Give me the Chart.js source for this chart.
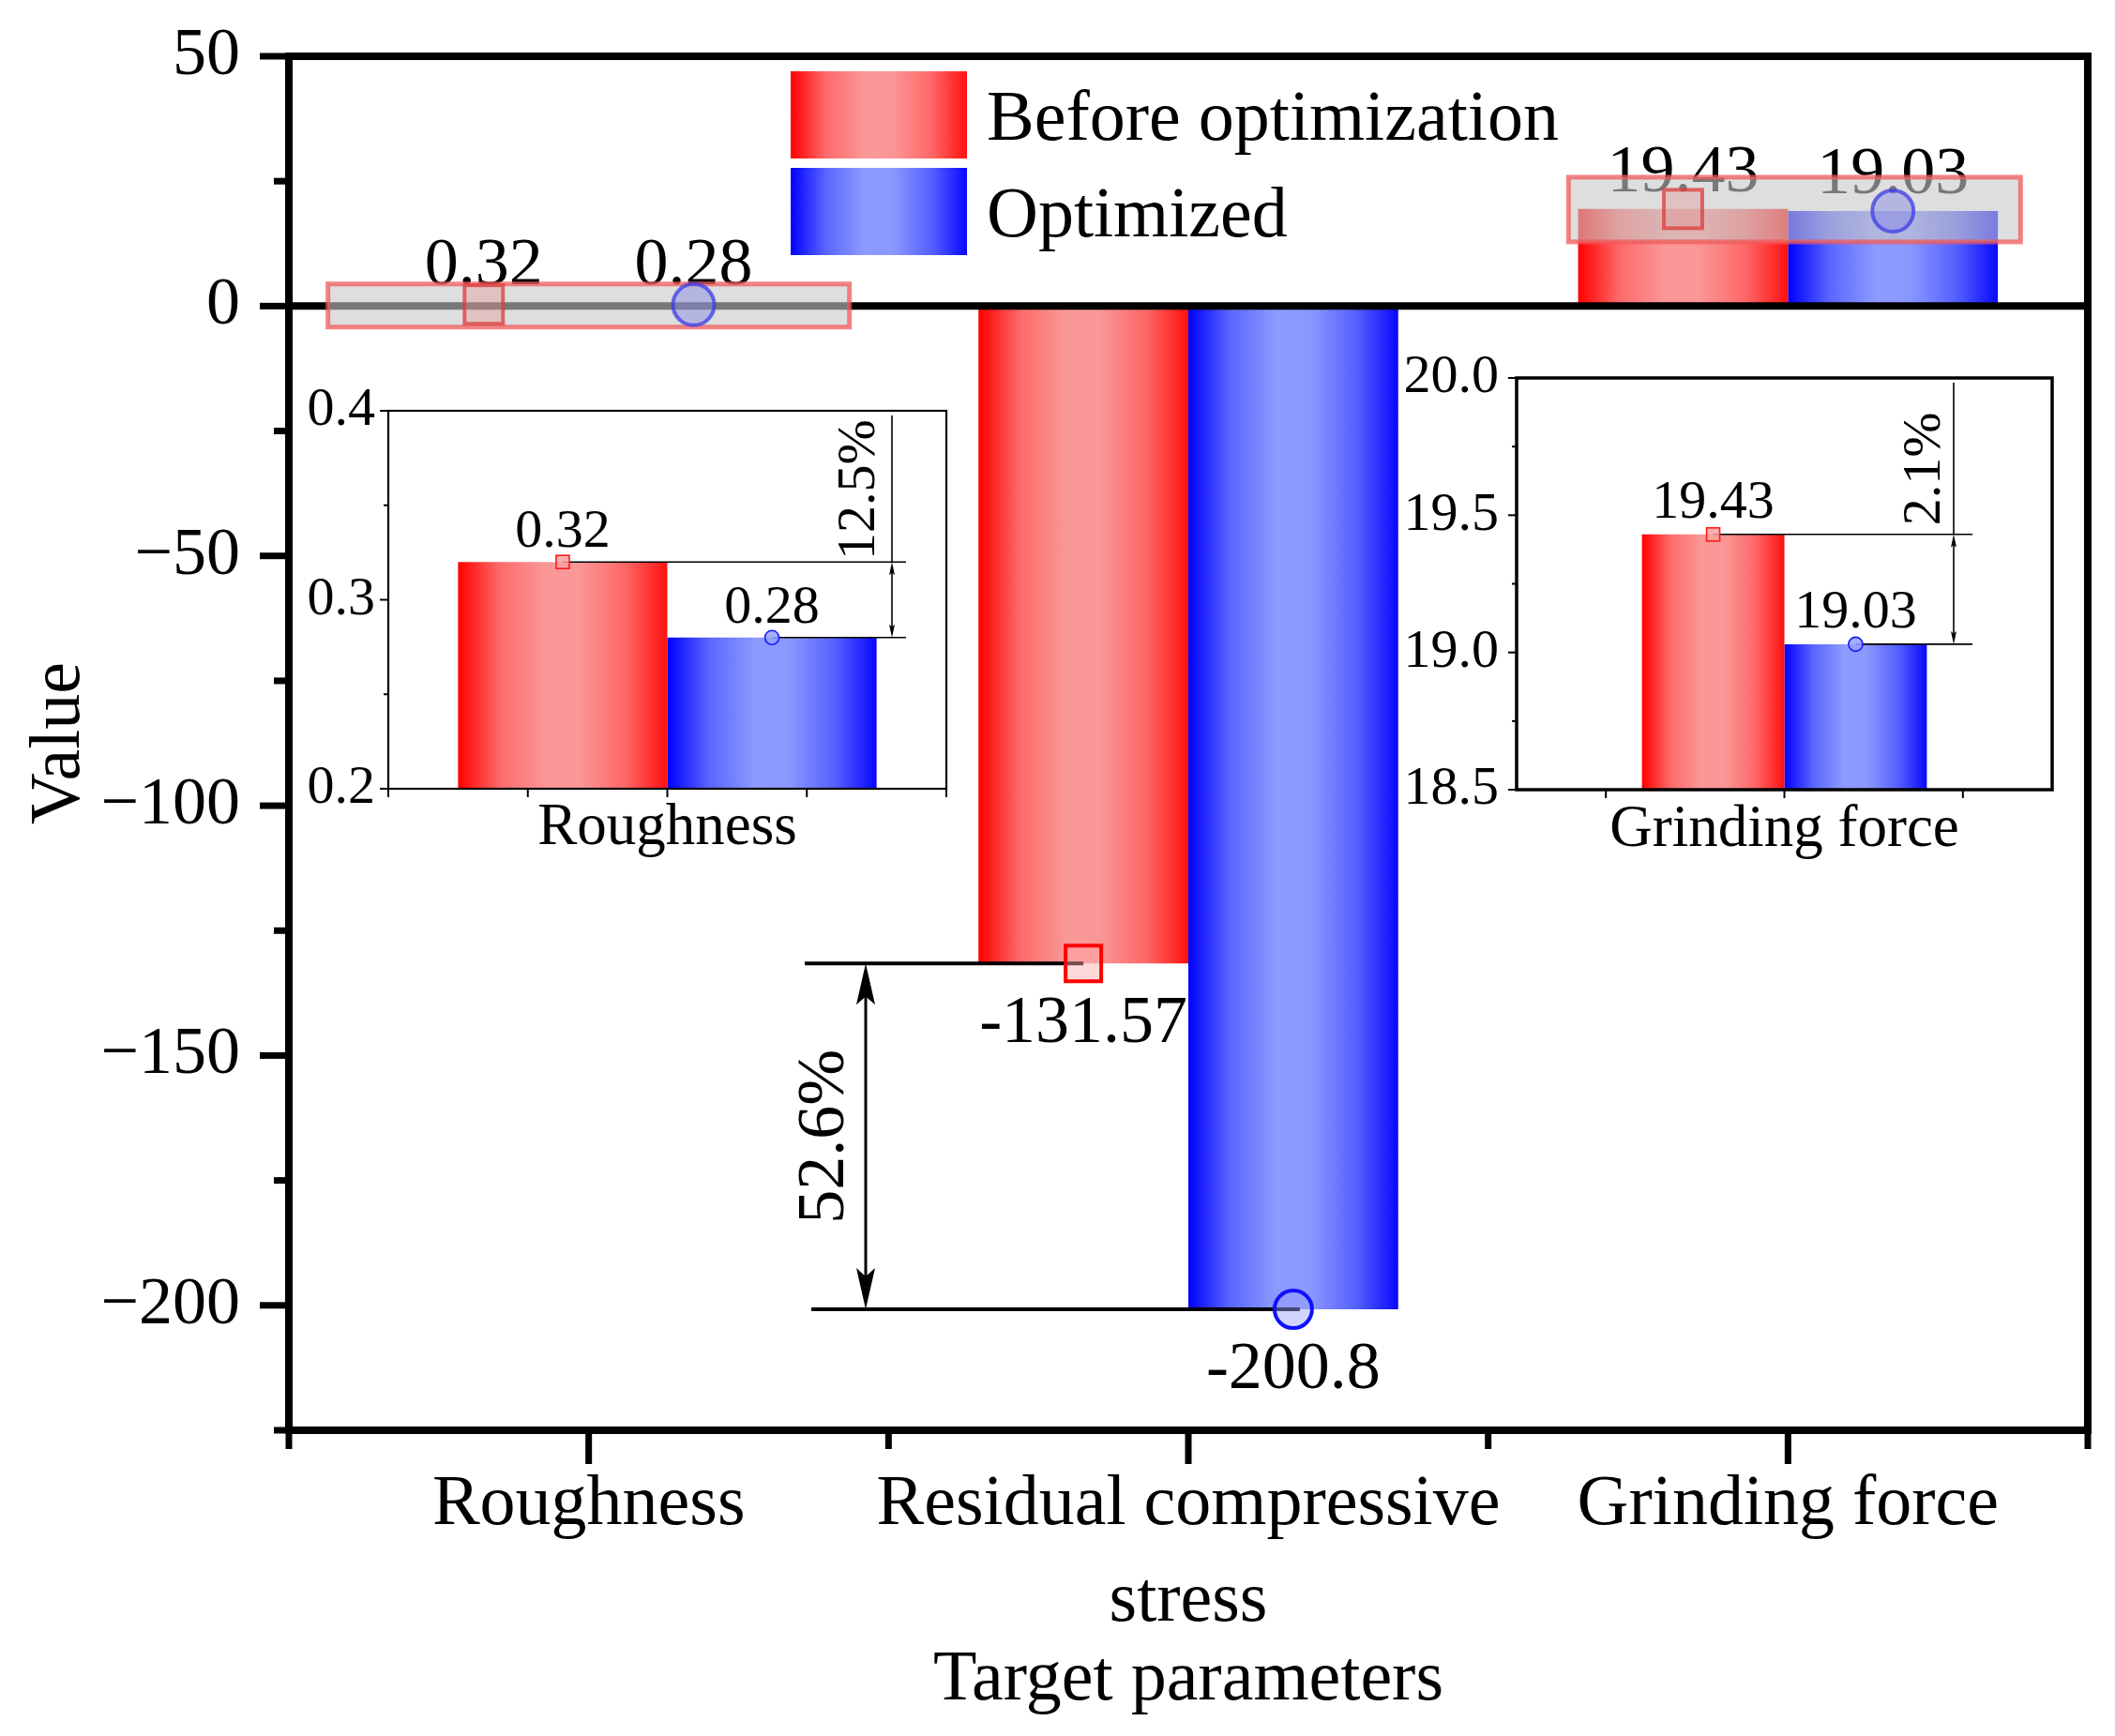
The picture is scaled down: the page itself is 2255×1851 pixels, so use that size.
<!DOCTYPE html>
<html>
<head>
<meta charset="utf-8">
<title>Before / after optimization</title>
<script src="https://cdn.jsdelivr.net/npm/chart.js@4.4.1/dist/chart.umd.min.js"></script>
<style>
  html, body { margin: 0; padding: 0; background: #fff; }
  #wrap { position: relative; width: 2255px; height: 1851px; }
  #wrap canvas { position: absolute; left: 0; top: 0; }
</style>
</head>
<body>
<div id="wrap">
  <canvas id="main" width="2255" height="1851"></canvas>
  <canvas id="insetRough" width="2255" height="1851"></canvas>
  <canvas id="insetForce" width="2255" height="1851"></canvas>
</div>
<script>
const W = 2255, H = 1851;
const FONT = '"Liberation Serif", "Times New Roman", serif';
const WORD_SIZE = 76;   // category names, legend, axis titles
const NUM_SIZE = 72;    // numbers in the main plot

// Data
const categories = ["Roughness", ["Residual compressive", "stress"], "Grinding force"];
const beforeValues = [0.32, -131.57, 19.43];
const optimizedValues = [0.28, -200.8, 19.03];
const seriesNames = ["Before optimization", "Optimized"];
const changeLabels = ["12.5%", "52.6%", "2.1%"];
const mainTickLabels = [-200, -150, -100, -50, 0, 50];
const roughTickLabels = [0.2, 0.3, 0.4];
const forceTickLabels = [18.5, 19.0, 19.5, 20.0];

// bar colours as gradient stops across the bar width
const RED = [[0, "#ff0000"], [0.2, "#fd6a6a"], [0.42, "#fa9898"], [0.58, "#fa9696"], [0.8, "#fe6666"], [1, "#ff1010"]];
const BLUE = [[0, "#0000ff"], [0.2, "#5a66ff"], [0.42, "#8d9bff"], [0.58, "#8b98ff"], [0.8, "#5560ff"], [1, "#0808ff"]];

function makeGradient(ctx, x0, x1, stops) {
  const g = ctx.createLinearGradient(x0, 0, x1, 0);
  stops.forEach(([p, c]) => g.addColorStop(p, c));
  return g;
}

// horizontal gradient per bar, worked out from the category scale
function gradientFill(pct, stops) {
  return (c) => {
    const chart = c.chart;
    const xs = chart.scales.x;
    if (!xs || !xs.width || c.dataIndex == null) return stops[0][1];
    const catW = xs.width / chart.data.labels.length;
    const barW = catW * pct / 2;
    const center = xs.getPixelForValue(c.dataIndex);
    const left = c.datasetIndex === 0 ? center - barW : center;
    return makeGradient(chart.ctx, left, left + barW, stops);
  };
}

function line(ctx, x0, y0, x1, y1) {
  ctx.beginPath();
  ctx.moveTo(x0, y0);
  ctx.lineTo(x1, y1);
  ctx.stroke();
}

function arrowHead(ctx, x, tipY, dir, len, w) {
  // dir = -1 points up, 1 points down
  ctx.beginPath();
  ctx.moveTo(x, tipY);
  ctx.lineTo(x - w / 2, tipY - dir * len);
  ctx.lineTo(x, tipY - dir * len * 0.8);
  ctx.lineTo(x + w / 2, tipY - dir * len);
  ctx.closePath();
  ctx.fill();
}

function doubleArrow(ctx, x, yTop, yBot, len, w, lw) {
  ctx.lineWidth = lw;
  line(ctx, x, yTop + len * 0.7, x, yBot - len * 0.7);
  arrowHead(ctx, x, yTop, -1, len, w);
  arrowHead(ctx, x, yBot, 1, len, w);
}

function rotatedText(ctx, text, x, y, size) {
  ctx.save();
  ctx.translate(x, y);
  ctx.rotate(-Math.PI / 2);
  ctx.font = size + "px " + FONT;
  ctx.textAlign = "center";
  ctx.textBaseline = "middle";
  ctx.fillStyle = "#000";
  ctx.fillText(text, 0, 0);
  ctx.restore();
}

function squareMarker(ctx, x, y, size, stroke, fill, lw) {
  ctx.fillStyle = fill;
  ctx.fillRect(x - size / 2, y - size / 2, size, size);
  ctx.strokeStyle = stroke;
  ctx.lineWidth = lw;
  ctx.strokeRect(x - size / 2, y - size / 2, size, size);
}

function circleMarker(ctx, x, y, r, stroke, fill, lw) {
  ctx.beginPath();
  ctx.arc(x, y, r, 0, Math.PI * 2);
  ctx.fillStyle = fill;
  ctx.fill();
  ctx.strokeStyle = stroke;
  ctx.lineWidth = lw;
  ctx.stroke();
}

// frame, ticks, legend and annotations of the main chart
const mainDecor = {
  id: "mainDecor",
  afterDatasetsDraw(chart) {
    const { ctx, chartArea: a, scales: { x, y } } = chart;
    const catW = x.width / categories.length;
    const barW = catW * 0.7 / 2;
    const cx = (i, ds) => x.getPixelForValue(i) + (ds === 0 ? -barW / 2 : barW / 2);
    const y0 = y.getPixelForValue(0);

    ctx.save();
    ctx.strokeStyle = "#000";
    ctx.fillStyle = "#000";

    // zero line and frame
    ctx.lineWidth = 8;
    line(ctx, a.left, y0, a.right, y0);
    ctx.strokeRect(a.left, a.top, a.right - a.left, a.bottom - a.top);

    // y ticks (major every 50, minor every 25)
    ctx.lineWidth = 7;
    for (let v = y.min; v <= y.max; v += 25) {
      const py = y.getPixelForValue(v);
      const len = v % 50 === 0 ? 31 : 16;
      line(ctx, a.left - len, py, a.left, py);
    }
    // x ticks
    for (let i = 0; i < categories.length; i++) {
      const px = x.getPixelForValue(i);
      line(ctx, px, a.bottom, px, a.bottom + 36);
    }
    for (let i = 0; i <= categories.length; i++) {
      const px = a.left + i * catW;
      line(ctx, px, a.bottom, px, a.bottom + 20);
    }

    // legend
    const lg = { x: 843, w: 188, h: 93, rows: [76, 179], textX: 1052 };
    [RED, BLUE].forEach((stops, k) => {
      const top = lg.rows[k];
      ctx.fillStyle = makeGradient(ctx, lg.x, lg.x + lg.w, stops);
      ctx.fillRect(lg.x, top, lg.w, lg.h);
      ctx.fillStyle = "#000";
      ctx.font = WORD_SIZE + "px " + FONT;
      ctx.textAlign = "left";
      ctx.textBaseline = "alphabetic";
      ctx.fillText(seriesNames[k], lg.textX, top + 73);
    });

    // residual stress guide lines + arrow
    const c1 = x.getPixelForValue(1);
    const yb = y.getPixelForValue(beforeValues[1]);
    const yo = y.getPixelForValue(optimizedValues[1]);
    ctx.strokeStyle = "#000";
    ctx.fillStyle = "#000";
    ctx.lineWidth = 4;
    line(ctx, c1 - 409, yb, cx(1, 0), yb);
    line(ctx, c1 - 402, yo, cx(1, 1) + 7, yo);
    doubleArrow(ctx, c1 - 344, yb, yo, 44, 20, 3);
    rotatedText(ctx, changeLabels[1], c1 - 387, (yb + yo) / 2, NUM_SIZE);

    // value labels
    const labelDy = [-22, 84, -19];
    ctx.font = NUM_SIZE + "px " + FONT;
    ctx.textAlign = "center";
    ctx.textBaseline = "alphabetic";
    ctx.fillStyle = "#000";
    [beforeValues, optimizedValues].forEach((vals, ds) => {
      vals.forEach((v, i) => {
        ctx.fillText(String(v), cx(i, ds), y.getPixelForValue(v) + labelDy[i]);
      });
    });

    // grey highlight boxes around the tiny bars
    const boxes = [
      { i: 0, l: -278, r: 278, t: -22, b: 24 },
      { i: 2, l: -234, r: 248, t: -35, b: 34 },
    ];
    boxes.forEach((bx) => {
      const px = x.getPixelForValue(bx.i);
      const py = y.getPixelForValue((beforeValues[bx.i] + optimizedValues[bx.i]) / 2);
      ctx.fillStyle = "rgba(200,200,200,0.6)";
      ctx.fillRect(px + bx.l, py + bx.t, bx.r - bx.l, bx.b - bx.t);
      ctx.strokeStyle = "rgba(240,90,90,0.75)";
      ctx.lineWidth = 5;
      ctx.strokeRect(px + bx.l, py + bx.t, bx.r - bx.l, bx.b - bx.t);
    });

    // markers
    beforeValues.forEach((v, i) => {
      const solid = i === 1;
      squareMarker(ctx, cx(i, 0), y.getPixelForValue(v), solid ? 38 : 41,
        solid ? "#ff0000" : "rgba(220,60,60,0.75)",
        solid ? "rgba(255,170,170,0.45)" : "rgba(230,140,140,0.35)", 4);
    });
    optimizedValues.forEach((v, i) => {
      const solid = i === 1;
      circleMarker(ctx, cx(i, 1), y.getPixelForValue(v), solid ? 20 : 22,
        solid ? "#1010ff" : "rgba(60,60,230,0.75)",
        solid ? "rgba(150,160,255,0.45)" : "rgba(130,130,230,0.45)", 4);
    });

    ctx.restore();
  },
};

new Chart(document.getElementById("main"), {
  type: "bar",
  data: {
    labels: categories,
    datasets: [
      { label: seriesNames[0], data: beforeValues, backgroundColor: gradientFill(0.7, RED),
        categoryPercentage: 0.7, barPercentage: 1.0, borderWidth: 0 },
      { label: seriesNames[1], data: optimizedValues, backgroundColor: gradientFill(0.7, BLUE),
        categoryPercentage: 0.7, barPercentage: 1.0, borderWidth: 0 },
    ],
  },
  options: {
    responsive: false,
    devicePixelRatio: 1,
    animation: false,
    layout: { autoPadding: false, padding: { left: 0, top: 60, right: 29, bottom: 0 } },
    plugins: { legend: { display: false }, tooltip: { enabled: false } },
    scales: {
      x: {
        grid: { display: false, drawTicks: false },
        border: { display: false },
        ticks: { font: { family: FONT, size: WORD_SIZE, lineHeight: 1.36 }, color: "#000", padding: 28,
                 maxRotation: 0, autoSkip: false },
        title: { display: true, text: "Target parameters", color: "#000",
                 font: { family: FONT, size: WORD_SIZE, lineHeight: 1.2 }, padding: { top: 0, bottom: 13 } },
        afterFit: (s) => { s.height = 326; },
      },
      y: {
        min: -225,
        max: 50,
        afterBuildTicks: (s) => { s.ticks = mainTickLabels.map((v) => ({ value: v })); },
        grid: { display: false, drawTicks: false },
        border: { display: false },
        ticks: { font: { family: FONT, size: NUM_SIZE }, color: "#000", padding: 52,
                 callback: (v) => (v < 0 ? "\u2212" + Math.abs(v) : String(v)) },
        title: { display: true, text: "Value", color: "#000",
                 font: { family: FONT, size: WORD_SIZE, lineHeight: 1.2 }, padding: { top: 18, bottom: 0 } },
        afterFit: (s) => { s.width = 308; s.paddingTop = 0; s.paddingBottom = 0; },
      },
    },
  },
  plugins: [mainDecor],
});

// inset charts (zoomed views of roughness and grinding force)
function insetDecor(idx, o) {
  return {
    id: "insetDecor" + idx,
    afterDatasetsDraw(chart) {
      const { ctx, chartArea: a, scales: { x, y } } = chart;
      const barW = x.width * o.pct / 2;
      const c = x.getPixelForValue(0);
      const xb = c - barW / 2, xo = c + barW / 2;
      const yb = y.getPixelForValue(beforeValues[idx]);
      const yo = y.getPixelForValue(optimizedValues[idx]);

      ctx.save();
      ctx.strokeStyle = "#000";
      ctx.fillStyle = "#000";
      ctx.lineWidth = o.frame;
      ctx.strokeRect(a.left, a.top, a.right - a.left, a.bottom - a.top);

      // y ticks, minor ones half way
      ctx.lineWidth = 2;
      o.ticks.forEach((v, k) => {
        const py = y.getPixelForValue(v);
        line(ctx, a.left - 9, py, a.left, py);
        if (k > 0) {
          const pm = y.getPixelForValue((v + o.ticks[k - 1]) / 2);
          line(ctx, a.left - 5, pm, a.left, pm);
        }
      });
      // x ticks
      o.xTicks.forEach((f) => {
        const px = a.left + f * (a.right - a.left);
        line(ctx, px, a.bottom, px, a.bottom + 9);
      });

      // guide lines and arrow
      ctx.lineWidth = 1.6;
      line(ctx, xb, yb, a.right - o.lineEnd, yb);
      line(ctx, xo, yo, a.right - o.lineEnd, yo);
      const ax = a.right - o.arrowX;
      line(ctx, ax, a.top + 5, ax, yb);
      doubleArrow(ctx, ax, yb, yo, 14, 6, 1.6);
      rotatedText(ctx, changeLabels[idx], a.right - o.textX, yb - o.textDy, 58);

      // value labels
      ctx.font = "58px " + FONT;
      ctx.textAlign = "center";
      ctx.textBaseline = "alphabetic";
      ctx.fillStyle = "#000";
      ctx.fillText(String(beforeValues[idx]), xb, yb - o.dy);
      ctx.fillText(String(optimizedValues[idx]), xo, yo - o.dy);

      // markers
      squareMarker(ctx, xb, yb, 14, "#ff1a1a", "rgba(250,160,160,0.85)", 1.6);
      circleMarker(ctx, xo, yo, 7.5, "#1a1aff", "rgba(150,160,255,0.85)", 1.6);
      ctx.restore();
    },
  };
}

function makeInset(canvasId, idx, area, tickVals, o) {
  const yw = 150, xh = 100;
  const opts = Object.assign({ ticks: tickVals }, o);
  const isTick = (v) => tickVals.some((t) => Math.abs(t - v) < 1e-9);
  return new Chart(document.getElementById(canvasId), {
    type: "bar",
    data: {
      labels: [categories[idx]],
      datasets: [
        { label: seriesNames[0], data: [beforeValues[idx]], backgroundColor: gradientFill(o.pct, RED),
          categoryPercentage: o.pct, barPercentage: 1.0, borderWidth: 0 },
        { label: seriesNames[1], data: [optimizedValues[idx]], backgroundColor: gradientFill(o.pct, BLUE),
          categoryPercentage: o.pct, barPercentage: 1.0, borderWidth: 0 },
      ],
    },
    options: {
      responsive: false,
      devicePixelRatio: 1,
      animation: false,
      layout: { autoPadding: false,
                padding: { left: area.left - yw, top: area.top, right: W - area.right, bottom: H - area.bottom - xh } },
      plugins: { legend: { display: false }, tooltip: { enabled: false } },
      scales: {
        x: {
          grid: { display: false, drawTicks: false },
          border: { display: false },
          ticks: { font: { family: FONT, size: 63, lineHeight: 1.2 }, color: "#000", padding: o.xPad, maxRotation: 0 },
          afterFit: (s) => { s.height = xh; },
        },
        y: {
          min: tickVals[0],
          max: tickVals[tickVals.length - 1],
          afterBuildTicks: (s) => { s.ticks = tickVals.map((v) => ({ value: v })); },
          grid: { display: false, drawTicks: false },
          border: { display: false },
          ticks: { font: { family: FONT, size: 58 }, color: "#000", padding: o.yPad,
                   callback: (v) => (isTick(v) ? v.toFixed(1) : "") },
          afterFit: (s) => { s.width = yw; s.paddingTop = 0; s.paddingBottom = 0; },
        },
      },
    },
    plugins: [insetDecor(idx, opts)],
  });
}

makeInset("insetRough", 0, { left: 414, top: 438, right: 1009, bottom: 841 }, roughTickLabels,
  { pct: 0.75, frame: 2.2, xTicks: [0, 0.25, 0.5, 0.75, 1], xPad: 5, yPad: 14,
    lineEnd: 43, arrowX: 58, textX: 92, textDy: 77, dy: 16 });

makeInset("insetForce", 2, { left: 1617, top: 403, right: 2188, bottom: 842 }, forceTickLabels,
  { pct: 0.532, frame: 3.5, xTicks: [1 / 6, 0.5, 5 / 6], xPad: 6, yPad: 19,
    lineEnd: 85, arrowX: 105, textX: 135, textDy: 70, dy: 18 });
</script>
</body>
</html>
